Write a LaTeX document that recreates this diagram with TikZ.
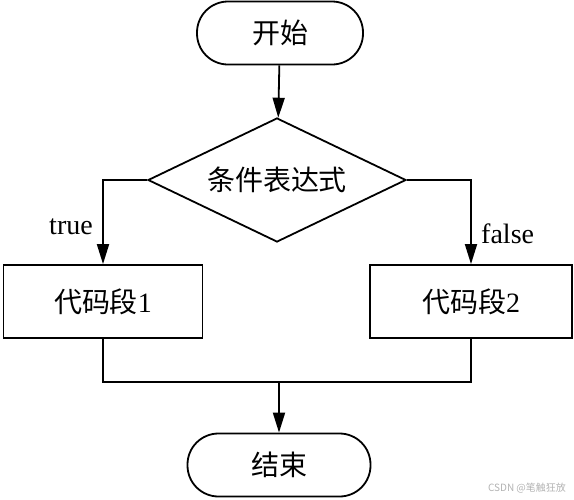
\documentclass[tikz,border=0pt]{standalone}
\usepackage{fontspec}
\setmainfont{Liberation Serif}
\newfontfamily\cjk{Noto Sans CJK SC}
\usetikzlibrary{shapes.geometric,arrows.meta}
\tikzset{
	terminal/.style={draw,line width=1.8pt,rounded corners=31pt,minimum height=63pt,inner sep=0pt,font=\fontsize{28}{30}\selectfont\cjk},
	decision/.style={draw,diamond,aspect=2.08,line width=1.8pt,minimum width=258pt,minimum height=124pt,inner sep=0pt,font=\fontsize{28}{30}\selectfont\cjk},
	codebox/.style={draw,line width=1.8pt,minimum height=73pt,inner sep=0pt,font=\fontsize{28}{30}\selectfont},
	>={Triangle[length=20pt,width=12pt]}
}
\begin{document}
\begin{tikzpicture}[x=1pt,y=-1pt,line width=1.8pt]
	\useasboundingbox (0,0) rectangle (574,499);
	\node[terminal,minimum width=166pt] (start) at (280,33) {开始};
	\node[decision] (cond) at (277,180) {条件表达式};
	\node[codebox,minimum width=199pt] (code1) at (103,301.5) {{\cjk 代码段}1};
	\node[codebox,minimum width=202pt] (code2) at (471,301.5) {{\cjk 代码段}2};
	\node[terminal,minimum width=183pt] (stop) at (279,465) {结束};
	\coordinate (join) at (279,382);
	% branches out of the test
	\draw[->] (start) -- (cond);
	\draw[->] (cond.west) -| node[pos=0.78,left=6pt,font=\fontsize{28}{30}\selectfont] {true} (code1.north);
	\draw[->] (cond.east) -| node[pos=0.82,right=6pt,font=\fontsize{28}{30}\selectfont] {false} (code2.north);
	% merge back
	\draw (code1.south) |- (join) -| (code2.south);
	\draw[->] (join) -- (stop);
	\node[font=\fontsize{10}{12}\selectfont\cjk,text=gray!60] (mark) at (527,488) {CSDN @笔触狂放};
\end{tikzpicture}
\end{document}
